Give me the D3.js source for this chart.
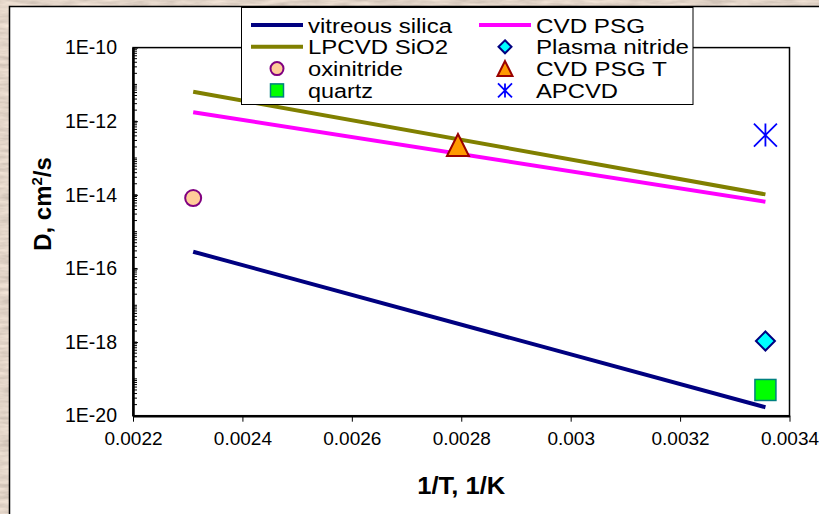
<!DOCTYPE html>
<html>
<head>
<meta charset="utf-8">
<script src="https://cdn.jsdelivr.net/npm/d3@7"></script>
<style>
  body { margin: 0; padding: 0; }
  svg { display: block; font-family: "Liberation Sans", Arial, sans-serif; }
</style>
</head>
<body>
<svg width="819" height="514"></svg>
<script>
// fitted lines: 1/T end points and D values
var lineX = [0.00231, 0.003356];
var vitreousSilica = [2.85e-16, 1.7e-20];
var lpcvdSiO2 = [6.3e-12, 1.03e-14];
var cvdPSG = [1.75e-12, 6.5e-15];

// single measurements [1/T, D]
var oxinitride = [[0.00231, 8.2e-15]];
var cvdPSGT = [[0.002794, 2.26e-13]];
var apcvd = [[0.003356, 4.2e-13]];
var plasmaNitride = [[0.003356, 1.07e-18]];
var quartz = [[0.003356, 5.0e-20]];

var xTicks = [0.0022, 0.0024, 0.0026, 0.0028, 0.003, 0.0032, 0.0034];
var yTicks = [1e-20, 1e-18, 1e-16, 1e-14, 1e-12, 1e-10];

var svg = d3.select("svg"),
  width = +svg.attr("width"),
  height = +svg.attr("height");

// marble-ish backdrop
var defs = svg.append("defs");
var filt = defs.append("filter").attr("id", "marble")
  .attr("x", 0).attr("y", 0).attr("width", "100%").attr("height", "100%");
filt.append("feTurbulence").attr("type", "fractalNoise")
  .attr("baseFrequency", "0.04 0.25").attr("numOctaves", 4).attr("seed", 3).attr("result", "n");
filt.append("feColorMatrix").attr("in", "n").attr("type", "matrix")
  .attr("values", "0.5 0 0 0 0.55  0.45 0 0 0 0.47  0.4 0 0 0 0.41  0 0 0 0 1");

svg.append("rect").attr("width", width).attr("height", height).attr("fill", "#b8a898");
svg.append("rect").attr("width", width).attr("height", height).attr("filter", "url(#marble)").attr("opacity", 0.9);

svg.append("rect")
  .attr("x", 9.5).attr("y", 6.5)
  .attr("width", width + 10).attr("height", height + 10)
  .attr("fill", "#fff").attr("stroke", "#000").attr("stroke-width", 1.5);

var margin = {left: 133, top: 47.6, right: 789.5, bottom: 415.7};

var x = d3.scaleLinear().domain([0.0022, 0.0034]).range([margin.left, margin.right]);
var y = d3.scaleLog().domain([1e-20, 1e-10]).range([margin.bottom, margin.top]);

var plot = svg.append("g");

// plot frame
plot.append("rect")
  .attr("x", margin.left).attr("y", margin.top)
  .attr("width", margin.right - margin.left).attr("height", margin.bottom - margin.top)
  .attr("fill", "#fff").attr("stroke", "#000").attr("stroke-width", 1.5);

// y axis minor ticks (inside)
var minor = [];
for (var e = -20; e < -10; e++) {
  for (var m = 1; m < 10; m++) minor.push(m * Math.pow(10, e));
}
plot.append("g").selectAll("line")
  .data(minor).enter().append("line")
  .attr("x1", margin.left).attr("x2", margin.left + 4)
  .attr("y1", function(d) { return y(d); })
  .attr("y2", function(d) { return y(d); })
  .attr("stroke", "#000").attr("stroke-width", 1);

var yAxis = d3.axisLeft(y).tickValues(yTicks).tickSizeInner(-5).tickSizeOuter(0)
  .tickPadding(16)
  .tickFormat(function(d) { return "1E" + Math.round(Math.log10(d)); });
var gy = plot.append("g").attr("transform", "translate(" + margin.left + ",0)").call(yAxis);
gy.select(".domain").attr("stroke-width", 2.5);
gy.selectAll("text").attr("font-size", 19.5).attr("fill", "#000")
  .attr("font-family", "Liberation Sans, Arial, sans-serif");

var xAxis = d3.axisBottom(x).tickValues(xTicks).tickSize(6).tickSizeOuter(0).tickPadding(10)
  .tickFormat(function(d) { return String(+d.toFixed(4)); });
var gx = plot.append("g").attr("transform", "translate(0," + margin.bottom + ")").call(xAxis);
gx.select(".domain").attr("stroke-width", 2.5);
gx.selectAll("text").attr("font-size", 19).attr("fill", "#000")
  .attr("font-family", "Liberation Sans, Arial, sans-serif");

// axis titles
svg.append("text")
  .attr("x", (margin.left + margin.right) / 2).attr("y", 494)
  .attr("text-anchor", "middle").attr("font-weight", "bold").attr("font-size", 23)
  .attr("textLength", 88).attr("lengthAdjust", "spacingAndGlyphs")
  .text("1/T, 1/K");

var yt = svg.append("text")
  .attr("transform", "translate(51,204) rotate(-90)")
  .attr("text-anchor", "middle").attr("font-weight", "bold").attr("font-size", 24);
yt.append("tspan").text("D, cm");
yt.append("tspan").attr("font-size", 15).attr("dy", -9).text("2");
yt.append("tspan").attr("dy", 9).text("/s");

// lines
var series = [
  {name: "vitreous silica", values: vitreousSilica, color: "#000080"},
  {name: "LPCVD SiO2", values: lpcvdSiO2, color: "#808000"},
  {name: "CVD PSG", values: cvdPSG, color: "#ff00ff"}
];
var line = d3.line()
  .x(function(d, i) { return x(lineX[i]); })
  .y(function(d) { return y(d); });
plot.append("g").selectAll("path")
  .data(series).enter().append("path")
  .attr("d", function(d) { return line(d.values); })
  .attr("fill", "none")
  .attr("stroke", function(d) { return d.color; })
  .attr("stroke-width", 4);

// marker drawing
function marker(g, type, s) {
  if (type === "circle") {
    g.append("circle").attr("r", s / 2)
      .attr("fill", "#ffcc99").attr("stroke", "#800080").attr("stroke-width", 2);
  } else if (type === "square") {
    g.append("rect").attr("x", -s / 2).attr("y", -s / 2).attr("width", s).attr("height", s)
      .attr("fill", "#00ff00").attr("stroke", "#008080").attr("stroke-width", 1.5);
  } else if (type === "diamond") {
    var h = s / 2;
    g.append("path").attr("d", "M0," + (-h) + "L" + h + ",0L0," + h + "L" + (-h) + ",0Z")
      .attr("fill", "#00ffff").attr("stroke", "#000080").attr("stroke-width", 2);
  } else if (type === "triangle") {
    var h2 = s / 2;
    g.append("path").attr("d", "M0," + (-h2) + "L" + h2 + "," + h2 + "L" + (-h2) + "," + h2 + "Z")
      .attr("fill", "#ff9900").attr("stroke", "#990000").attr("stroke-width", 2)
      .attr("stroke-linejoin", "miter");
  } else if (type === "star") {
    var h3 = s / 2;
    g.append("path").attr("d",
        "M0," + (-h3) + "V" + h3 +
        "M" + (-h3) + "," + (-h3) + "L" + h3 + "," + h3 +
        "M" + h3 + "," + (-h3) + "L" + (-h3) + "," + h3)
      .attr("fill", "none").attr("stroke", "#0000ff").attr("stroke-width", 1.8);
  }
}

var pointSets = [
  {name: "oxinitride", data: oxinitride, type: "circle", size: 16},
  {name: "quartz", data: quartz, type: "square", size: 21},
  {name: "Plasma nitride", data: plasmaNitride, type: "diamond", size: 19},
  {name: "CVD PSG T", data: cvdPSGT, type: "triangle", size: 22},
  {name: "APCVD", data: apcvd, type: "star", size: 23}
];
pointSets.forEach(function(ps) {
  plot.append("g").selectAll("g")
    .data(ps.data).enter().append("g")
    .attr("transform", function(d) { return "translate(" + x(d[0]) + "," + y(d[1]) + ")"; })
    .each(function() { marker(d3.select(this), ps.type, ps.size); });
});

// legend
var legend = svg.append("g");
legend.append("rect")
  .attr("x", 241.5).attr("y", 7.5).attr("width", 451.5).attr("height", 97)
  .attr("fill", "#fff").attr("stroke", "#000").attr("stroke-width", 1);

var legendItems = [
  {label: "vitreous silica", kind: "line", color: "#000080", col: 0, row: 0, w: 144},
  {label: "LPCVD SiO2", kind: "line", color: "#808000", col: 0, row: 1, w: 140},
  {label: "oxinitride", kind: "circle", col: 0, row: 2, w: 95},
  {label: "quartz", kind: "square", col: 0, row: 3, w: 65},
  {label: "CVD PSG", kind: "line", color: "#ff00ff", col: 1, row: 0, w: 109},
  {label: "Plasma nitride", kind: "diamond", col: 1, row: 1, w: 153},
  {label: "CVD PSG T", kind: "triangle", col: 1, row: 2, w: 131},
  {label: "APCVD", kind: "star", col: 1, row: 3, w: 82}
];
var colX = [277, 505];
var legendSize = {circle: 13, square: 13, diamond: 13, triangle: 15, star: 14};
legendItems.forEach(function(it) {
  var cy = 25 + it.row * 21.8;
  var g = legend.append("g").attr("transform", "translate(" + colX[it.col] + "," + cy + ")");
  if (it.kind === "line") {
    g.append("line").attr("x1", -26).attr("x2", 26)
      .attr("stroke", it.color).attr("stroke-width", 4);
  } else {
    marker(g, it.kind, legendSize[it.kind]);
  }
  legend.append("text")
    .attr("x", colX[it.col] + 31).attr("y", cy + 7.5)
    .attr("font-size", 20).attr("fill", "#000")
    .attr("textLength", it.w).attr("lengthAdjust", "spacingAndGlyphs")
    .text(it.label);
});
</script>
</body>
</html>
